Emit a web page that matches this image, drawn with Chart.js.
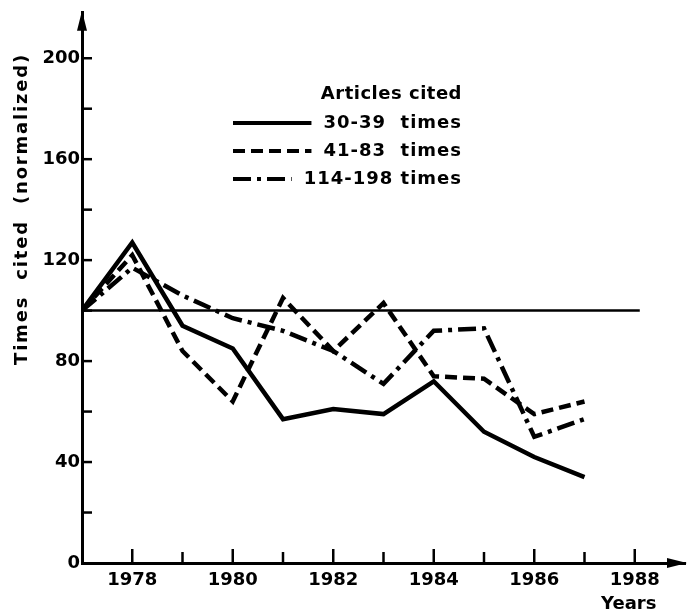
<!DOCTYPE html>
<html>
<head>
<meta charset="utf-8">
<script src="https://cdn.jsdelivr.net/npm/chart.js@4.4.1/dist/chart.umd.min.js"></script>
<style>
  html, body { margin: 0; padding: 0; background: #fff; }
</style>
</head>
<body>
<canvas id="chart" width="692" height="615"></canvas>
<script>
// Data
const years = [1977, 1978, 1979, 1980, 1981, 1982, 1983, 1984, 1985, 1986, 1987];
const cited30to39 = [100, 127, 94, 85, 57, 61, 59, 72, 52, 42, 34];
const cited41to83 = [100, 122, 84, 64, 105, 84, 103, 74, 73, 59, 64];
const cited114to198 = [100, 117, 106, 97, 92, 84, 71, 92, 93, 50, 57];
const seriesNames = ["30-39  times", "41-83  times", "114-198 times"];
const legendTitle = "Articles cited";

// the horizontal 100 line
const refYears = [1977, 1988.1];
const refValues = [100, 100];

const yTickLabels = [0, 40, 80, 120, 160, 200];
const xTickLabels = [1978, 1980, 1982, 1984, 1986, 1988];
const yMinorTicks = [20, 40, 60, 80, 100, 120, 140, 160, 180, 200];
const xMinorTicks = [1978, 1979, 1980, 1981, 1982, 1983, 1984, 1985, 1986, 1987, 1988];

const FONT = '"DejaVu Sans", sans-serif';
const dashes = [[], [12, 6], [18, 6, 4, 6]];

Chart.defaults.font.family = FONT;
Chart.defaults.font.weight = "bold";
Chart.defaults.font.size = 18;
Chart.defaults.color = "#000";

function pairs(xs, ys) {
  return xs.map((x, i) => ({ x: x, y: ys[i] }));
}

// tick marks, arrows, axis title, legend
const decorations = {
  id: "decorations",
  afterDraw(chart) {
    const ctx = chart.ctx;
    const xs = chart.scales.x;
    const ys = chart.scales.y;
    const left = chart.chartArea.left;
    const bottom = chart.chartArea.bottom;
    ctx.save();
    ctx.strokeStyle = "#000";
    ctx.fillStyle = "#000";
    ctx.lineWidth = 2.5;

    yMinorTicks.forEach(v => {
      const py = ys.getPixelForValue(v);
      ctx.beginPath();
      ctx.moveTo(left, py);
      ctx.lineTo(left + 10, py);
      ctx.stroke();
    });
    xMinorTicks.forEach(v => {
      const px = xs.getPixelForValue(v);
      const len = v % 2 === 0 ? 14 : 11;
      ctx.beginPath();
      ctx.moveTo(px, bottom);
      ctx.lineTo(px, bottom - len);
      ctx.stroke();
    });

    // arrow heads
    const top = chart.chartArea.top;
    const right = chart.chartArea.right;
    ctx.beginPath();
    ctx.moveTo(left, top - 2);
    ctx.lineTo(left - 5, top + 18);
    ctx.lineTo(left + 5, top + 18);
    ctx.closePath();
    ctx.fill();
    ctx.beginPath();
    ctx.moveTo(right + 2, bottom);
    ctx.lineTo(right - 18, bottom - 5);
    ctx.lineTo(right - 18, bottom + 5);
    ctx.closePath();
    ctx.fill();

    // y title
    ctx.font = "bold 18px " + FONT;
    ctx.save();
    ctx.translate(22, 209);
    ctx.rotate(-Math.PI / 2);
    ctx.textAlign = "center";
    ctx.textBaseline = "middle";
    ctx.letterSpacing = "1.8px";
    ctx.fillText("Times  cited  (normalized)", 0, 0);
    ctx.restore();

    // x title
    ctx.textAlign = "center";
    ctx.textBaseline = "middle";
    ctx.fillText("Years", xs.getPixelForValue(1988) - 6, 604);

    // legend
    const textRight = 462;
    ctx.textAlign = "right";
    ctx.letterSpacing = "0.5px";
    ctx.fillText(legendTitle, textRight, 94);
    ctx.letterSpacing = "1px";
    const rows = [123, 151, 179];
    seriesNames.forEach((name, i) => {
      ctx.fillText(name, textRight, rows[i]);
      const w = ctx.measureText(name).width;
      ctx.save();
      ctx.lineWidth = 4;
      ctx.setLineDash(dashes[i]);
      ctx.beginPath();
      ctx.moveTo(233, rows[i]);
      ctx.lineTo(textRight - w - 12, rows[i]);
      ctx.stroke();
      ctx.restore();
    });
    ctx.restore();
  }
};

function seriesStyle(i) {
  return {
    borderColor: "#000",
    borderWidth: 4.5,
    borderDash: dashes[i],
    pointRadius: 0,
    tension: 0,
    fill: false
  };
}

new Chart(document.getElementById("chart"), {
  type: "line",
  data: {
    datasets: [
      Object.assign({ label: seriesNames[0], data: pairs(years, cited30to39) }, seriesStyle(0)),
      Object.assign({ label: seriesNames[1], data: pairs(years, cited41to83) }, seriesStyle(1)),
      Object.assign({ label: seriesNames[2], data: pairs(years, cited114to198) }, seriesStyle(2)),
      {
        label: "reference",
        data: pairs(refYears, refValues),
        borderColor: "#000",
        borderWidth: 2.5,
        pointRadius: 0
      }
    ]
  },
  options: {
    responsive: false,
    animation: false,
    layout: { padding: { top: 12, right: 3, left: 0, bottom: 0 } },
    plugins: {
      legend: { display: false },
      tooltip: { enabled: false }
    },
    scales: {
      x: {
        type: "linear",
        min: 1977,
        max: 1989,
        grid: { display: false, drawTicks: false },
        border: { display: true, color: "#000", width: 3 },
        ticks: {
          stepSize: 1,
          padding: 7,
          maxRotation: 0,
          autoSkip: false,
          callback: v => (xTickLabels.includes(v) ? String(v) : "")
        },
        afterFit: s => { s.height = 52; }
      },
      y: {
        min: 0,
        max: 218,
        grid: { display: false, drawTicks: false },
        border: { display: true, color: "#000", width: 3 },
        ticks: {
          stepSize: 20,
          padding: 2,
          autoSkip: false,
          callback: v => (yTickLabels.includes(v) ? String(v) : "")
        },
        afterFit: s => { s.width = 82; }
      }
    }
  },
  plugins: [decorations]
});
</script>
</body>
</html>
